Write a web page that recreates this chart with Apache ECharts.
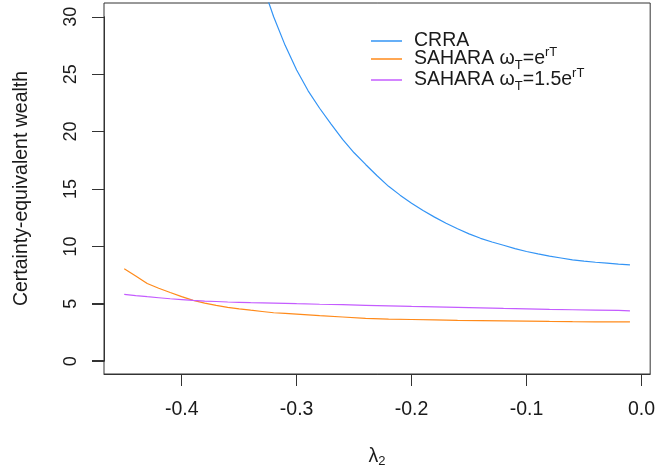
<!DOCTYPE html>
<html>
<head>
<meta charset="utf-8">
<script src="https://cdn.jsdelivr.net/npm/echarts@6/dist/echarts.min.js"></script>
<style>
html,body{margin:0;padding:0;background:#fff;}
#chart{width:658px;height:473px;}
</style>
</head>
<body>
<div id="chart"></div>
<script>
// ---- data ----
var seriesNames = ['CRRA', 'SAHARA ωT=e^rT', 'SAHARA ωT=1.5e^rT'];
var crraX = [-0.34,-0.33,-0.32,-0.31,-0.30,-0.29,-0.28,-0.27,-0.26,-0.25,-0.24,-0.23,-0.22,-0.21,-0.20,-0.19,-0.18,-0.17,-0.16,-0.15,-0.14,-0.13,-0.12,-0.11,-0.10,-0.09,-0.08,-0.07,-0.06,-0.05,-0.04,-0.03,-0.02,-0.01];
var crraY = [36.1,32.9,30.0,27.5,25.35,23.53,22.01,20.63,19.29,18.12,17.1,16.11,15.19,14.42,13.72,13.08,12.5,11.97,11.48,11.04,10.65,10.33,10.04,9.75,9.5,9.29,9.09,8.93,8.77,8.66,8.56,8.48,8.40,8.33];
var saharaX = [-0.45,-0.44,-0.43,-0.42,-0.41,-0.40,-0.39,-0.38,-0.37,-0.36,-0.35,-0.34,-0.33,-0.32,-0.31,-0.30,-0.28,-0.26,-0.24,-0.22,-0.20,-0.18,-0.16,-0.14,-0.12,-0.10,-0.08,-0.06,-0.04,-0.02,-0.01];
var sahara1Y = [8.0,7.36,6.7,6.29,5.92,5.56,5.23,4.99,4.79,4.62,4.49,4.37,4.26,4.15,4.09,4.03,3.90,3.78,3.66,3.60,3.56,3.52,3.48,3.46,3.44,3.42,3.39,3.37,3.36,3.35,3.35];
var sahara15Y = [5.76,5.65,5.55,5.46,5.37,5.30,5.23,5.17,5.13,5.09,5.06,5.03,5.01,4.99,4.97,4.94,4.89,4.85,4.80,4.75,4.70,4.66,4.62,4.58,4.53,4.49,4.44,4.41,4.38,4.35,4.32];
var xTicks = [-0.4,-0.3,-0.2,-0.1,0.0];
var yTicks = [0,5,10,15,20,25,30];
var yTickMin = 0, yTickMax = 30, yTickStep = 5;
var yTitle = 'Certainty-equivalent wealth';

function pairs(xs, ys){ return xs.map(function(x,i){ return [x, ys[i]]; }); }

var FONT = '"Liberation Sans", Arial, sans-serif';
var TXT = '#1a1a1a';
var AX = '#333333';
var COLORS = ['#3394f5', '#ff8a1a', '#c45cff'];

// plot box geometry and data range
var G = {left: 104, right: 6, top: 3, bottom: 98};
var TICK_LEN = 12;
var yMin = -1.2, yMax = 31.2;
var H = 473 - G.top - G.bottom;
var pxPerUnit = H / (yMax - yMin);

var legendRich = {
  n: {fontSize: 19.5, fontFamily: FONT, color: TXT, lineHeight: 26},
  sub: {fontSize: 13, fontFamily: FONT, color: TXT, lineHeight: 13, verticalAlign: 'bottom'},
  sup: {fontSize: 13, fontFamily: FONT, color: TXT, lineHeight: 13, verticalAlign: 'top'}
};
var legendFmt = {};
legendFmt[seriesNames[0]] = '{n|CRRA}';
legendFmt[seriesNames[1]] = '{n|SAHARA ω}{sub|T}{n|=e}{sup|rT}';
legendFmt[seriesNames[2]] = '{n|SAHARA ω}{sub|T}{n|=1.5e}{sup|rT}';

var chart = echarts.init(document.getElementById('chart'), null, {renderer: 'canvas'});
chart.setOption({
  animation: false,
  backgroundColor: '#ffffff',
  grid: [
    {left: G.left, right: G.right, top: G.top, bottom: G.bottom, show: true, borderColor: AX, borderWidth: 1, backgroundColor: 'transparent', z: 0},
    {left: G.left, right: G.right,
     top: G.top + (yMax - yTickMax) * pxPerUnit,
     bottom: G.bottom + (yTickMin - yMin) * pxPerUnit}
  ],
  legend: {
    orient: 'vertical', left: 371, top: 31, itemGap: -5, padding: 0,
    icon: 'rect', itemWidth: 31, itemHeight: 1.5,
    data: seriesNames,
    formatter: function(name){ return legendFmt[name]; },
    textStyle: {rich: legendRich, padding: [0,0,0,7]}
  },
  xAxis: [{
    gridIndex: 0, type: 'value', min: -0.4676, max: 0.0076,
    splitLine: {show: false},
    axisLine: {show: true, onZero: false, lineStyle: {color: AX, width: 1}},
    axisTick: {show: true, customValues: xTicks, length: TICK_LEN, inside: false, lineStyle: {color: AX}},
    axisLabel: {customValues: xTicks, margin: 26, fontSize: 19.5, fontFamily: FONT, color: TXT,
      formatter: function(v){ return v.toFixed(1); }},
    name: '{l|λ}{s|2}', nameLocation: 'middle', nameGap: 72,
    nameTextStyle: {rich: {
      l: {fontSize: 19.5, fontFamily: FONT, color: TXT, lineHeight: 22},
      s: {fontSize: 13, fontFamily: FONT, color: TXT, lineHeight: 13, verticalAlign: 'bottom'}
    }}
  }, {
    gridIndex: 1, type: 'value', min: 0, max: 1,
    axisLine: {show: true, lineStyle: {color: 'rgba(0,0,0,0)'}},
    axisTick: {show: false}, axisLabel: {show: false}, splitLine: {show: false}
  }],
  yAxis: [{
    gridIndex: 0, type: 'value', min: yMin, max: yMax,
    splitLine: {show: false},
    axisLine: {show: false},
    axisTick: {show: false},
    axisLabel: {show: false},
    name: yTitle, nameLocation: 'middle', nameRotate: 90, nameGap: 72,
    nameTextStyle: {fontSize: 19.5, fontFamily: FONT, color: TXT}
  }, {
    gridIndex: 1, type: 'value', min: yTickMin, max: yTickMax, interval: yTickStep, z: 10,
    splitLine: {show: false},
    axisLine: {show: true, lineStyle: {color: AX}},
    axisTick: {show: true, length: TICK_LEN, lineStyle: {color: AX}},
    axisLabel: {rotate: 90, margin: 24, fontSize: 18, fontFamily: FONT, color: TXT}
  }],
  series: [
    {name: seriesNames[0], type: 'line', xAxisIndex: 0, yAxisIndex: 0, data: pairs(crraX, crraY), symbol: 'none', clip: true,
     lineStyle: {color: COLORS[0], width: 1.2}, itemStyle: {color: COLORS[0]}},
    {name: seriesNames[1], type: 'line', xAxisIndex: 0, yAxisIndex: 0, data: pairs(saharaX, sahara1Y), symbol: 'none', clip: true,
     lineStyle: {color: COLORS[1], width: 1.2}, itemStyle: {color: COLORS[1]}},
    {name: seriesNames[2], type: 'line', xAxisIndex: 0, yAxisIndex: 0, data: pairs(saharaX, sahara15Y), symbol: 'none', clip: true,
     lineStyle: {color: COLORS[2], width: 1.2}, itemStyle: {color: COLORS[2]}},
    {name: 'axis-holder', type: 'line', xAxisIndex: 1, yAxisIndex: 1, data: [], symbol: 'none', silent: true}
  ]
});

// y-axis tick marks, placed through the y scale of the plot
try {
  var tickGraphics = yTicks.map(function(v){
    var py = chart.convertToPixel({yAxisIndex: 0}, v);
    py = Math.round(py) + 0.5;
    return {type: 'line', silent: true, z: 50,
      shape: {x1: G.left - TICK_LEN, y1: py, x2: G.left, y2: py},
      style: {stroke: AX, lineWidth: 1}};
  });
  chart.setOption({graphic: tickGraphics});
} catch (e) {}
</script>
</body>
</html>
